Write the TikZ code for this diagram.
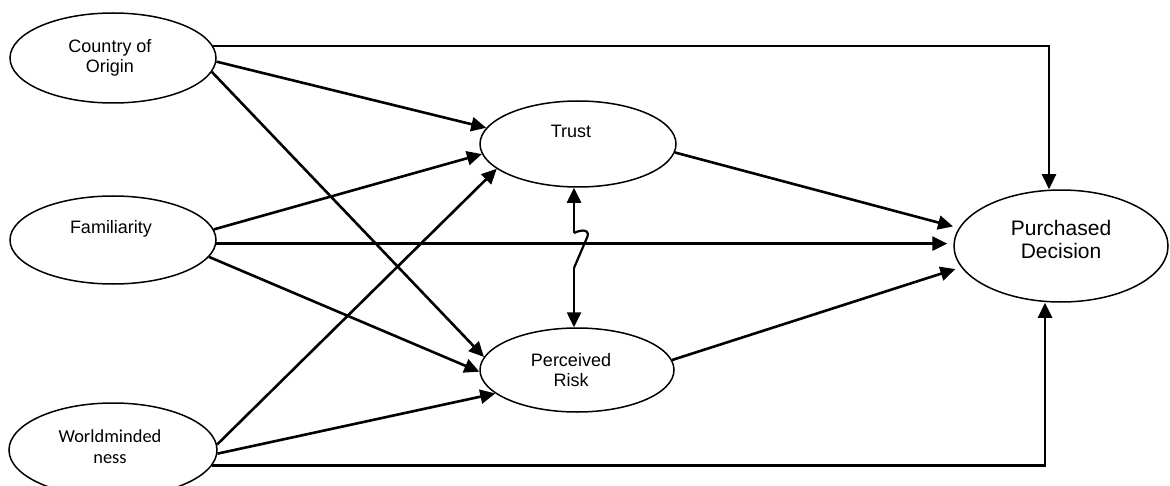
\documentclass[tikz,border=0pt]{standalone}
\usepackage{fontspec}
\setmainfont{Liberation Sans}
\newfontfamily\calibrifont{Carlito}
\usetikzlibrary{shapes.geometric,arrows.meta}

\begin{document}
\begin{tikzpicture}[x=0.5pt,y=-0.5pt,
  oval/.style={draw,ellipse,line width=0.75pt,inner sep=0pt},
  arr/.style={line width=1.3pt,-{Triangle[length=7.5pt,width=7pt]}},
  gap/.style={shorten >=3pt},
  lbl/.style={align=center,inner sep=0pt,font=\fontsize{9}{10}\selectfont}]
\def\bigfont{\fontsize{10.5}{11.5}\selectfont}
\def\wmfont{\calibrifont\fontsize{9.2}{10.5}\selectfont}

\useasboundingbox (0,0) rectangle (1170,486);

% ellipses
\node [oval,minimum width=103pt,minimum height=45pt] (coo) at (113,58) {};
\node [oval,minimum width=103pt,minimum height=44pt] (fam) at (113,240) {};
\node [oval,minimum width=104pt,minimum height=47pt] (wm) at (113,450) {};
\node [oval,minimum width=98pt,minimum height=43pt] (trust) at (578,144) {};
\node [oval,minimum width=97pt,minimum height=42pt] (risk) at (577,370) {};
\node [oval,minimum width=107pt,minimum height=56pt] (pd) at (1061,246) {};

% texts
\node [lbl] (coo-t) at (110,58) {Country of\\Origin};
\node [lbl] (fam-t) at (111,229) {Familiarity};
\node [lbl,font=\wmfont] (wm-t) at (110,447) {Worldminded\\ness};
\node [lbl] (trust-t) at (571,131) {Trust};
\node [lbl] (risk-t) at (571,370) {Perceived\\Risk};
\node [lbl,font=\bigfont] (pd-t) at (1061,239) {Purchased\\Decision};

% country of origin
\draw [arr,line width=1.1pt] (coo.7) -| ([xshift=-6pt]pd.north);
\draw [arr] (coo.-2) -- (trust.170);
\draw [arr] (coo.-8) -- (risk.172);

% familiarity
\draw [arr] (fam.6) -- (trust.186);
\draw [arr,gap] (fam.-2) -- (fam.-2 -| pd.west);
\draw [arr] (fam.-10) -- (risk.181);

% worldmindedness
\draw [arr] (wm.3) -- (trust.197);
\draw [arr] (wm.-2) -- (risk.196);
\draw [arr] (wm.-9) -| ([xshift=-8pt]pd.south);

% mediators
\draw [arr,gap] (trust.-5) -- (pd.170);
\draw [arr,gap] (risk.6) -- (pd.192);

% trust <-> perceived risk
\coordinate (zig1) at (574,233);
\coordinate (zig2) at (586,240);
\coordinate (zig3) at (574,268);
\draw [arr] (zig1) -- (zig1 |- trust.south);
\draw [arr] (zig3) -- (zig3 |- risk.north);
\draw [line width=1.1pt] (zig1) .. controls (582,229) and (592,229) .. (zig2) -- (zig3);

\end{tikzpicture}
\end{document}
